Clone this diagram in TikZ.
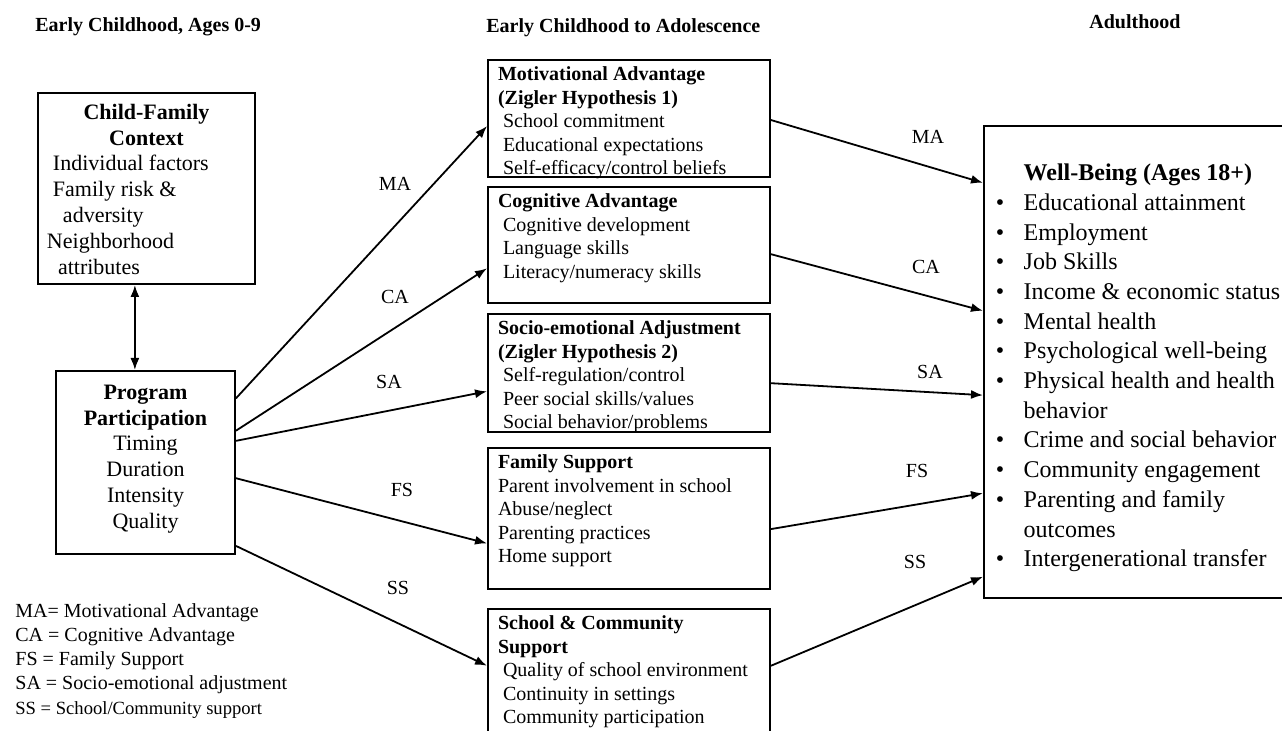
\documentclass[tikz,border=0pt]{standalone}
\usepackage{fontspec}
\setmainfont{Liberation Serif}
\usetikzlibrary{arrows.meta,calc}

\tikzset{
  sidebox/.style={draw, line width=1pt, anchor=north west, inner xsep=4pt,
    font=\fontsize{11}{12.9}\selectfont},
  stagebox/.style={draw, line width=1pt, anchor=north west, inner xsep=5pt,
    inner ysep=3.5pt, font=\fontsize{10}{11.75}\selectfont},
  flow/.style={-{Latex[length=6pt,width=4.5pt]}, line width=0.9pt},
  pathlabel/.style={inner sep=0pt, font=\fontsize{10}{12}\selectfont},
  period/.style={inner sep=0pt, anchor=west, font=\fontsize{10}{12}\selectfont\bfseries}
}

\begin{document}
\begin{tikzpicture}[x=0.5pt, y=-0.5pt]
		% Page frame.
		\useasboundingbox (0,0) rectangle (1282,731);
		\fill[white] (0,0) rectangle (1282,731);
		\clip (0,0) rectangle (1282,731);

		% Period headings.
		\node[period] (hchild) at (35,27) {Early Childhood, Ages 0-9};
		\node[period] (hteen) at (486,28) {Early Childhood to Adolescence};
		\node[period] (hadult) at (1089,22) {Adulthood};

		% Left column.
		\node[sidebox, inner ysep=5.5pt] (cfc) at (37,92) {\parbox[c][84.5pt][t]{100.5pt}{\raggedright
			\makebox[\linewidth]{\bfseries Child-Family}\\
			\makebox[\linewidth]{\bfseries Context}\\
			\hspace*{3.5pt}Individual factors\\
			\hspace*{3.5pt}Family risk \&\\
			\hspace*{8.5pt}adversity\\
			\hspace*{0.5pt}Neighborhood\\
			\hspace*{6pt}attributes}};
		\node[sidebox, inner ysep=7pt] (pp) at (55,370) {\parbox[c][77.5pt][t]{81.5pt}{\centering
			{\bfseries Program\\ Participation}\\
			Timing\\ Duration\\ Intensity\\ Quality}};

		\coordinate (cfcout) at ($(cfc.south west)!0.447!(cfc.south east)$);
		\draw[flow, {Latex[length=6pt,width=4.5pt]}-{Latex[length=6pt,width=4.5pt]}] (cfcout) -- (cfcout |- pp.north);

		% Middle column.
		\node[stagebox] (ma) at (487,59) {\parbox[c][51.5pt][t]{131pt}{\raggedright
			\textbf{Motivational Advantage}\\
			\textbf{(Zigler Hypothesis 1)}\\
			\hspace*{2.5pt}School commitment\\
			\hspace*{2.5pt}Educational expectations\\
			\hspace*{2.5pt}Self-efficacy/control beliefs}};
		\node[stagebox] (ca) at (487,186) {\parbox[c][51pt][t]{131pt}{\raggedright
			\textbf{Cognitive Advantage}\\
			\hspace*{2.5pt}Cognitive development\\
			\hspace*{2.5pt}Language skills\\
			\hspace*{2.5pt}Literacy/numeracy skills}};
		\node[stagebox] (sa) at (487,313) {\parbox[c][52pt][t]{131pt}{\raggedright
			\textbf{Socio-emotional Adjustment}\\
			\textbf{(Zigler Hypothesis 2)}\\
			\hspace*{2.5pt}Self-regulation/control\\
			\hspace*{2.5pt}Peer social skills/values\\
			\hspace*{2.5pt}Social behavior/problems}};
		\node[stagebox] (fs) at (487,447) {\parbox[c][63.5pt][t]{131pt}{\raggedright
			\textbf{Family Support}\\
			Parent involvement in school\\
			Abuse/neglect\\
			Parenting practices\\
			Home support}};
		\node[stagebox] (ss) at (487,608) {\parbox[c][69pt][t]{131pt}{\raggedright
			\textbf{School \& Community}\\
			\textbf{Support}\\
			\hspace*{2.5pt}Quality of school environment\\
			\hspace*{2.5pt}Continuity in settings\\
			\hspace*{2.5pt}Community participation}};

		% Right column.
		\node[draw, line width=1pt, anchor=north west, inner sep=0pt,
			font=\fontsize{12}{14.85}\selectfont] (wb) at (983,125) {\parbox[c][236pt][t]{158.5pt}{\raggedright
			\vspace*{19pt}
			\hspace*{19.85pt}\textbf{Well-Being (Ages 18+)}\\
			\hspace*{5.9pt}\makebox[13.95pt][l]{\textbullet}Educational attainment\\
			\hspace*{5.9pt}\makebox[13.95pt][l]{\textbullet}Employment\\
			\hspace*{5.9pt}\makebox[13.95pt][l]{\textbullet}Job Skills\\
			\hspace*{5.9pt}\makebox[13.95pt][l]{\textbullet}Income \& economic status\\
			\hspace*{5.9pt}\makebox[13.95pt][l]{\textbullet}Mental health\\
			\hspace*{5.9pt}\makebox[13.95pt][l]{\textbullet}Psychological well-being\\
			\hspace*{5.9pt}\makebox[13.95pt][l]{\textbullet}Physical health and health\\
			\hspace*{19.85pt}behavior\\
			\hspace*{5.9pt}\makebox[13.95pt][l]{\textbullet}Crime and social behavior\\
			\hspace*{5.9pt}\makebox[13.95pt][l]{\textbullet}Community engagement\\
			\hspace*{5.9pt}\makebox[13.95pt][l]{\textbullet}Parenting and family\\
			\hspace*{19.85pt}outcomes\\
			\hspace*{5.9pt}\makebox[13.95pt][l]{\textbullet}Intergenerational transfer}};

		% Paths from program participation.
		\draw[flow] ($(pp.north east)!0.153!(pp.south east)$) -- ($(ma.north west)!0.564!(ma.south west)$);
		\draw[flow] ($(pp.north east)!0.328!(pp.south east)$) -- ($(ca.north west)!0.698!(ca.south west)$);
		\draw[flow] ($(pp.north east)!0.383!(pp.south east)$) -- ($(sa.north west)!0.653!(sa.south west)$);
		\draw[flow] ($(pp.north east)!0.585!(pp.south east)$) -- ($(fs.north west)!0.674!(fs.south west)$);
		\draw[flow] ($(pp.north east)!0.951!(pp.south east)$) -- ($(ss.north west)!0.375!(ss.south west)$);
		\node[pathlabel] (lma) at (395,184) {MA};
		\node[pathlabel] (lca) at (395,297) {CA};
		\node[pathlabel] (lsa) at (389,382) {SA};
		\node[pathlabel] (lfs) at (402,490) {FS};
		\node[pathlabel] (lss) at (398,588) {SS};

		% Paths to adult well-being.
		\draw[flow] ($(ma.north east)!0.513!(ma.south east)$) -- ($(wb.north west)!0.122!(wb.south west)$);
		\draw[flow] ($(ca.north east)!0.578!(ca.south east)$) -- ($(wb.north west)!0.392!(wb.south west)$);
		\draw[flow] ($(sa.north east)!0.585!(sa.south east)$) -- ($(wb.north west)!0.570!(wb.south west)$);
		\draw[flow] ($(fs.north east)!0.574!(fs.south east)$) -- ($(wb.north west)!0.777!(wb.south west)$);
		\draw[flow] ($(ss.north east)!0.375!(ss.south east)$) -- ($(wb.north west)!0.953!(wb.south west)$);
		\node[pathlabel] (rma) at (928,137) {MA};
		\node[pathlabel] (rca) at (926,267) {CA};
		\node[pathlabel] (rsa) at (930,372) {SA};
		\node[pathlabel] (rfs) at (917,471) {FS};
		\node[pathlabel] (rss) at (915,562) {SS};

		% Key.
		\node[inner sep=0pt, anchor=north west, align=left, font=\fontsize{10}{12.1}\selectfont] (key) at (15,603)
			{MA= Motivational Advantage\\
			 CA = Cognitive Advantage\\
			 FS = Family Support\\
			 SA = Socio-emotional adjustment\\
			 {\fontsize{9.3}{12.1}\selectfont SS = School/Community support}};
	\end{tikzpicture}
\end{document}
